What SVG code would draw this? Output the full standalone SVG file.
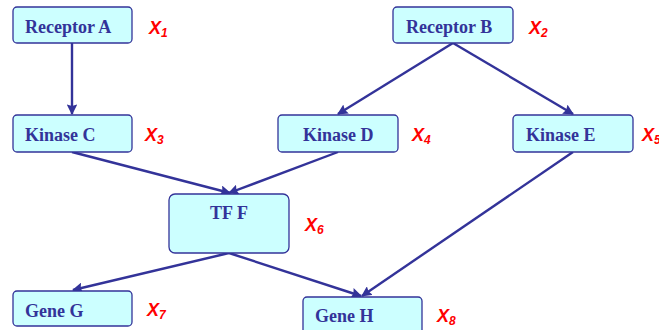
<svg xmlns="http://www.w3.org/2000/svg" width="659" height="330" viewBox="0 0 659 330">
<defs>
<marker id="ah" viewBox="0 0 10 10" refX="9" refY="5" markerWidth="4.4" markerHeight="4.4" orient="auto" markerUnits="strokeWidth">
<path d="M0,0 L10,5 L0,10 L1.5,5 z" fill="#333399"/>
</marker>
<style>
.box{fill:#ccffff;stroke:#333399;stroke-width:1.3}
.lbl{font-family:"Liberation Serif",serif;font-weight:bold;font-size:18px;fill:#333399}
.var{font-family:"Liberation Sans",Arial,sans-serif;font-weight:bold;font-style:italic;font-size:18px;fill:#ff0000}
.sub{font-size:12px}
.edge{stroke:#333399;stroke-width:2.4;fill:none;marker-end:url(#ah)}
</style>
</defs>
<rect width="659" height="330" fill="#ffffff"/>
<g id="connectors">
<line class="edge" x1="72" y1="43" x2="72" y2="114"/>
<line class="edge" x1="453" y1="43" x2="338" y2="114"/>
<line class="edge" x1="453" y1="43" x2="573" y2="114"/>
<line class="edge" x1="72" y1="152" x2="230" y2="193"/>
<line class="edge" x1="338" y1="152" x2="229" y2="193"/>
<line class="edge" x1="573" y1="152" x2="362" y2="296"/>
<line class="edge" x1="229" y1="253" x2="73" y2="290"/>
<line class="edge" x1="229" y1="253" x2="361" y2="296"/>
</g>
<g id="receptorA"><rect class="box" x="13" y="7" width="119" height="36" rx="4"/><text class="lbl" x="25" y="33">Receptor A</text><text class="var" x="149" y="34">X<tspan class="sub" dy="3">1</tspan></text></g>
<g id="receptorB"><rect class="box" x="393" y="7" width="120" height="36" rx="4"/><text class="lbl" x="406" y="33">Receptor B</text><text class="var" x="529" y="34">X<tspan class="sub" dy="3">2</tspan></text></g>
<g id="kinaseC"><rect class="box" x="13" y="115" width="119" height="37" rx="4"/><text class="lbl" x="25" y="141">Kinase C</text><text class="var" x="145" y="141">X<tspan class="sub" dy="3">3</tspan></text></g>
<g id="kinaseD"><rect class="box" x="278" y="115" width="120" height="37" rx="4"/><text class="lbl" x="303" y="141">Kinase D</text><text class="var" x="412" y="141">X<tspan class="sub" dy="3">4</tspan></text></g>
<g id="kinaseE"><rect class="box" x="513" y="115" width="120" height="37" rx="4"/><text class="lbl" x="526" y="141">Kinase E</text><text class="var" x="642" y="141">X<tspan class="sub" dy="3">5</tspan></text></g>
<g id="tfF"><rect class="box" x="169" y="194" width="120" height="59" rx="6"/><text class="lbl" x="229" y="219" text-anchor="middle">TF F</text><text class="var" x="305" y="231">X<tspan class="sub" dy="3">6</tspan></text></g>
<g id="geneG"><rect class="box" x="13" y="291" width="119" height="35" rx="4"/><text class="lbl" x="25" y="317">Gene G</text><text class="var" x="147" y="316">X<tspan class="sub" dy="3">7</tspan></text></g>
<g id="geneH"><rect class="box" x="303" y="297" width="119" height="40" rx="4"/><text class="lbl" x="315" y="322">Gene H</text><text class="var" x="437" y="322">X<tspan class="sub" dy="3">8</tspan></text></g>
</svg>
